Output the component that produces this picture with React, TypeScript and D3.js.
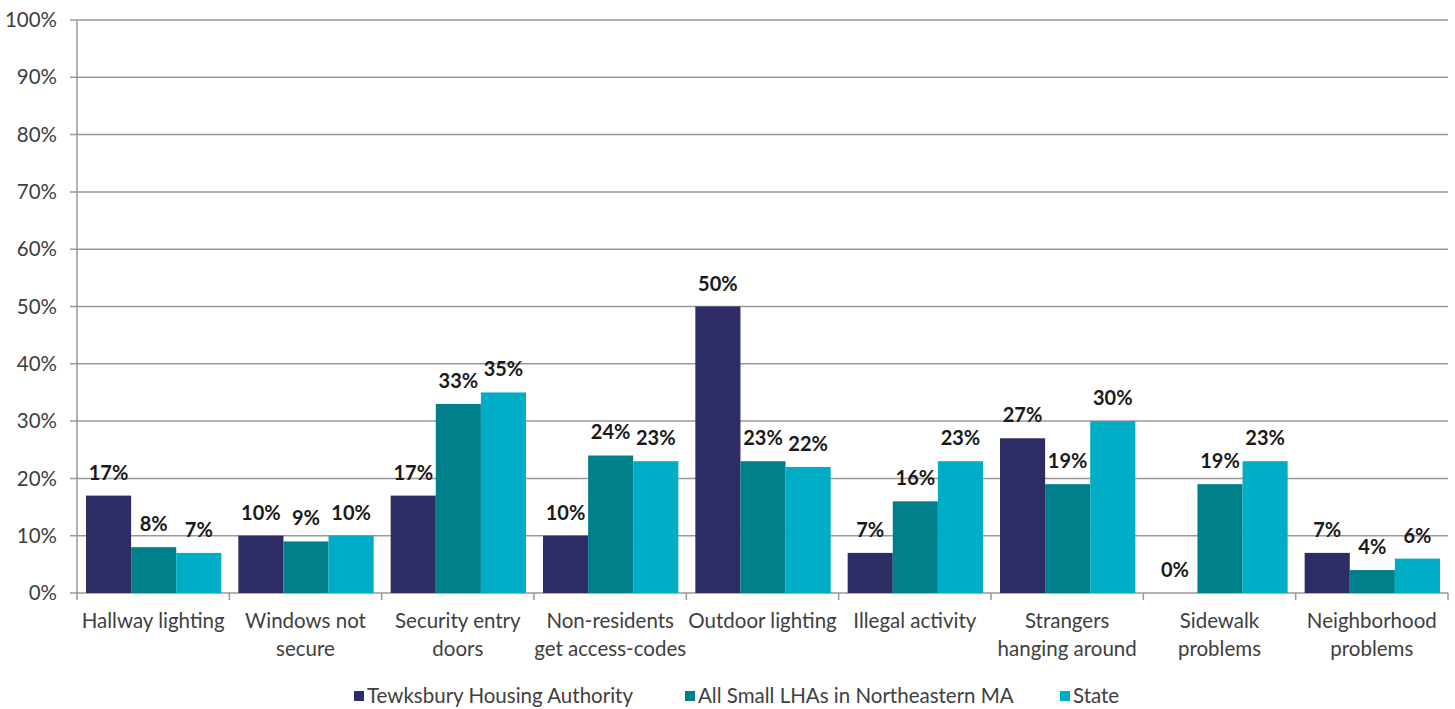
import React from "react";
import * as d3 from "d3";

const categories: string[][] = [
  ["Hallway lighting"],
  ["Windows not", "secure"],
  ["Security entry", "doors"],
  ["Non-residents", "get access-codes"],
  ["Outdoor lighting"],
  ["Illegal activity"],
  ["Strangers", "hanging around"],
  ["Sidewalk", "problems"],
  ["Neighborhood", "problems"],
];
const seriesNames = ["Tewksbury Housing Authority", "All Small LHAs in Northeastern MA", "State"];
const tewksbury = [17, 10, 17, 10, 50, 7, 27, 0, 7];
const smallLHAs = [8, 9, 33, 24, 23, 16, 19, 19, 4];
const state = [7, 10, 35, 23, 22, 23, 30, 23, 6];
const colors = ["#2E2C65", "#00808B", "#00ADC6"];
const yTicks = [0, 10, 20, 30, 40, 50, 60, 70, 80, 90, 100];

const W = 1455;
const H = 709;
const left = 77;
const right = 1448;
const top = 20;
const bottom = 593;
const font = "Lato, 'Open Sans', sans-serif";

export default function App() {
  const series = [tewksbury, smallLHAs, state];
  const x0 = d3.scaleBand<number>().domain(d3.range(categories.length)).range([left, right]).padding(0);
  const x1 = d3.scaleBand<number>().domain([0, 1, 2]).range([9, x0.bandwidth() - 8]).padding(0);
  const y = d3.scaleLinear().domain([0, 100]).range([bottom, top]);
  const legendX = [354, 685, 1060];

  return (
    <svg width={W} height={H} style={{ position: "absolute", left: 0, top: 0, background: "#fff" }}>
      {yTicks.map((t) => (
        <g key={t}>
          <line x1={left - 7} x2={right} y1={y(t)} y2={y(t)} stroke="#999" strokeWidth={1.5} />
          <text x={left - 20} y={y(t)} dy="0.35em" textAnchor="end" fontFamily={font} fontSize={20.5} fill="#404040">
            {t}%
          </text>
        </g>
      ))}
      <line x1={left} x2={left} y1={top} y2={bottom} stroke="#999" strokeWidth={1.5} />
      {d3.range(categories.length + 1).map((i) => {
        const xx = i < categories.length ? x0(i)! : right;
        return <line key={i} x1={xx} x2={xx} y1={bottom} y2={bottom + 7} stroke="#999" strokeWidth={1.5} />;
      })}
      {categories.map((lines, i) =>
        series.map((s, k) => {
          const bx = x0(i)! + x1(k)!;
          const v = s[i];
          return (
            <g key={`${i}-${k}`}>
              <rect x={bx} y={y(v)} width={x1.bandwidth()} height={bottom - y(v)} fill={colors[k]} />
              <text
                x={bx + x1.bandwidth() / 2}
                y={y(v) - 16}
                textAnchor="middle"
                fontFamily={font}
                fontWeight="bold"
                fontSize={20}
                fill="#1a1a1a"
              >
                {v}%
              </text>
            </g>
          );
        })
      )}
      {categories.map((lines, i) => (
        <text key={i} textAnchor="middle" fontFamily={font} fontSize={20.5} fill="#404040">
          {lines.map((l, j) => (
            <tspan key={j} x={x0(i)! + x0.bandwidth() / 2} y={628 + j * 28}>
              {l}
            </tspan>
          ))}
        </text>
      ))}
      {seriesNames.map((n, k) => (
        <g key={n}>
          <rect x={legendX[k]} y={691} width={10} height={10} fill={colors[k]} />
          <text x={legendX[k] + 13} y={703} fontFamily={font} fontSize={20.5} fill="#404040">
            {n}
          </text>
        </g>
      ))}
    </svg>
  );
}
